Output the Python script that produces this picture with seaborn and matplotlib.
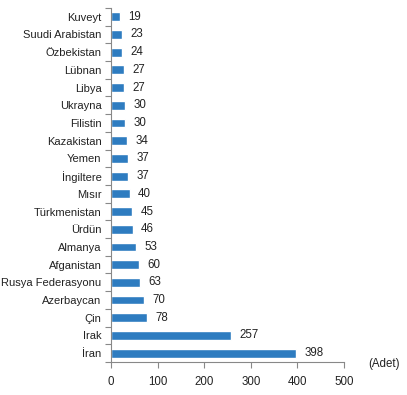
import matplotlib.pyplot as plt
import seaborn as sns
import pandas as pd
import numpy as np

countries = ['Kuveyt', 'Suudi Arabistan', 'Özbekistan', 'Lübnan', 'Libya', 'Ukrayna',
             'Filistin', 'Kazakistan', 'Yemen', 'İngiltere', 'Mısır', 'Türkmenistan',
             'Ürdün', 'Almanya', 'Afganistan', 'Rusya Federasyonu', 'Azerbaycan',
             'Çin', 'Irak', 'İran']
counts = [19, 23, 24, 27, 27, 30, 30, 34, 37, 37, 40, 45, 46, 53, 60, 63, 70, 78, 257, 398]

df = pd.DataFrame({'Ülke': countries, 'Adet': counts})

sns.set_style('white')
plt.rcParams['font.family'] = ['Liberation Sans', 'DejaVu Sans']

fig = plt.figure(figsize=(4.07, 3.95), dpi=100)
ax = fig.add_axes([0.273, 0.0835, 0.572, 0.8965])

sns.barplot(data=df, y='Ülke', x='Adet', orient='h', color='#2e7cc0',
            saturation=1, width=0.5, ax=ax)

# value labels, a few points right of each bar
for i, v in enumerate(df['Adet']):
    ax.annotate(str(v), (v, i), xytext=(6, 0), textcoords='offset points',
                va='center', ha='left', fontsize=8.3, color='#222222')

ax.set_xlim(0, 500)
ax.set_ylim(len(countries) - 0.5, -0.5)
ax.set_xticks(range(0, 501, 100))
ax.set_xlabel('')
ax.set_ylabel('')

# tick marks between categories like Excel
ax.set_yticks(np.arange(-0.5, len(countries)), minor=True)
ax.tick_params(axis='y', which='major', left=True, length=0, labelsize=8, pad=7,
               labelcolor='#222222')
ax.tick_params(axis='y', which='minor', left=True, length=4, color='#888888', width=0.8)
ax.tick_params(axis='x', which='major', bottom=True, length=4, color='#888888', width=0.8,
               labelsize=8.3, labelcolor='#222222', pad=6)

for side in ['top', 'right']:
    ax.spines[side].set_visible(False)
for side in ['left', 'bottom']:
    ax.spines[side].set_color('#888888')
    ax.spines[side].set_linewidth(0.8)

ax.text(1.105, -0.005, '(Adet)', transform=ax.transAxes, fontsize=8.3,
        color='#222222', ha='left', va='center')

plt.savefig('out.png', dpi=100)
plt.close('all')
